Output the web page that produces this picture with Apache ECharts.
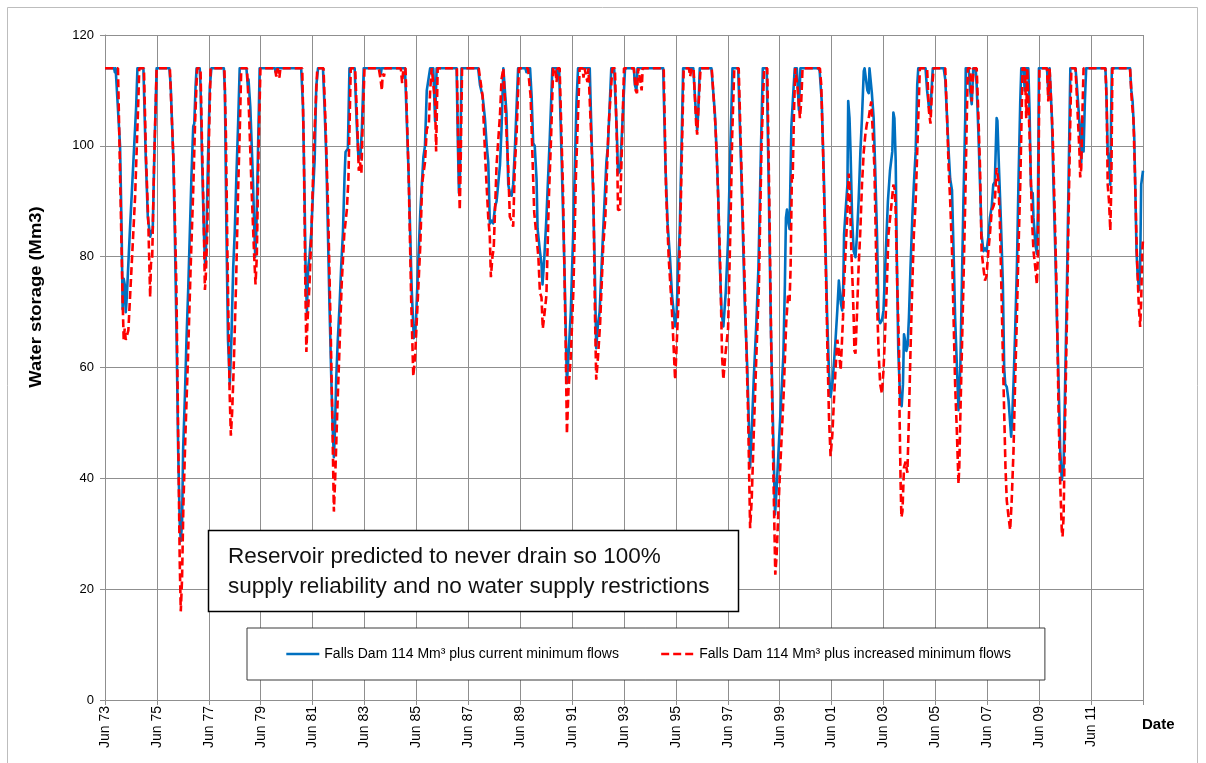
<!DOCTYPE html>
<html>
<head>
<meta charset="utf-8">
<script src="https://cdn.jsdelivr.net/npm/echarts@6/dist/echarts.min.js"></script>
<style>
html,body{margin:0;padding:0;background:#fff;}
#c{width:1206px;height:763px;}
</style>
</head>
<body>
<div id="c"></div>
<script>
// x values: years since June 1973; y values: storage in Mm3
const xTickLabels = ['Jun 73','Jun 75','Jun 77','Jun 79','Jun 81','Jun 83','Jun 85','Jun 87','Jun 89','Jun 91',
  'Jun 93','Jun 95','Jun 97','Jun 99','Jun 01','Jun 03','Jun 05','Jun 07','Jun 09','Jun 11'];
const seriesNames = ['Falls Dam 114 Mm\u00b3 plus current minimum flows','Falls Dam 114 Mm\u00b3 plus increased minimum flows'];

const storageCurrent = [
[0,114],[0.35,114],[0.38,113.3],[0.41,114],[0.47,114],[0.58,100],[0.64,85],[0.68,70.5],[0.72,76],[0.76,75],[0.8,70],[0.84,72.7],[0.96,84.8],[1.09,96.8],[1.2,107],[1.25,114],
[1.48,114],[1.57,98],[1.65,87.2],[1.74,83.6],[1.79,84.5],[1.84,85],[1.9,98],[1.99,114],
[2.48,114],[2.53,111],[2.63,98],[2.69,84.5],[2.76,65],[2.82,45],[2.88,32],[2.92,28.7],[2.97,32],[3.01,45],[3.08,55],[3.14,65],[3.21,74.6],[3.27,84.5],[3.33,94.3],[3.4,103.5],[3.44,104],[3.49,110.7],[3.53,114],
[3.65,114],[3.68,111],[3.74,97.6],[3.81,84.5],[3.85,79.3],[3.87,78],[3.91,84.5],[3.97,97.6],[4.04,110.7],[4.1,114],
[4.58,114],[4.62,110],[4.68,84.5],[4.74,65],[4.81,57],[4.87,65],[4.94,78],[5.0,84.5],[5.06,94],[5.13,104],[5.19,114],
[5.45,114],[5.5,111],[5.53,112],[5.6,107],[5.7,94],[5.76,84],[5.79,80],[5.83,84.5],[5.89,97.6],[5.96,114],
[6.55,114],[6.58,113.3],[6.62,114],
[7.56,114],[7.63,107],[7.69,91],[7.73,78],[7.78,70],[7.83,78],[7.88,80],[7.95,84.5],[8.01,91],[8.08,97.6],[8.14,110.7],[8.21,114],
[8.4,114],[8.46,107],[8.53,97.6],[8.59,84.5],[8.65,71.3],[8.72,58],[8.78,48.4],[8.82,43.8],[8.86,48.4],[8.91,58],[8.97,64.8],[9.04,71.3],[9.1,78],[9.17,84.5],[9.23,94.3],[9.27,98.9],[9.36,99.5],[9.42,114],
[9.62,114],[9.7,104],[9.77,97.5],[9.84,98],[9.9,103],[9.97,114],
[10.6,114],[10.63,113],[10.66,114],
[11.56,114],[11.7,95],[11.82,74],[11.9,65.3],[11.98,68],[12.08,80],[12.15,88],[12.27,98],[12.33,100],[12.4,110],[12.53,114],
[12.65,114],[12.72,104.5],[12.78,114],
[13.55,114],[13.6,100],[13.64,91.5],[13.68,95],[13.74,114],
[14.38,114],[14.45,111],[14.55,109],[14.64,105],[14.71,100],[14.77,97],[14.83,86],[14.9,86.5],[14.96,86],[15.03,89],[15.09,90],[15.22,96.5],[15.28,103],[15.35,114],
[15.4,114],[15.47,106],[15.54,93],[15.6,91.5],[15.67,91],[15.73,93],[15.8,100],[15.92,114],
[16.2,114],[16.24,113.3],[16.3,114],
[16.38,114],[16.44,109],[16.5,100.5],[16.56,100],[16.63,94],[16.67,85],[16.76,81],[16.82,78.7],[16.86,75],[16.92,79],[17.01,87],[17.14,101.5],[17.24,114],
[17.4,114],[17.45,112],[17.5,114],
[17.55,114],[17.6,97],[17.7,79],[17.8,57.2],[17.86,62],[17.95,70],[18.04,84],[18.17,108],[18.23,114],
[18.68,114],[18.81,91],[18.87,79],[18.93,63.5],[19.0,68],[19.06,70],[19.19,84],[19.32,97],[19.38,100],[19.51,114],
[19.62,114],[19.72,103],[19.77,95],[19.85,95.5],[20.04,114],
[20.38,114],[20.42,111],[20.48,110],[20.52,114],
[21.51,114],[21.6,96],[21.68,86],[21.77,80],[21.85,73],[21.97,67.4],[22.03,70],[22.09,78.7],[22.15,85],[22.28,114],
[22.67,114],[22.77,106],[22.82,102.8],[22.86,106],[22.92,114],
[23.37,114],[23.5,106],[23.56,100],[23.63,91],[23.69,79],[23.76,70],[23.83,67.4],[23.92,73.5],[24.01,83],[24.08,96],[24.18,114],
[24.4,114],[24.52,95],[24.65,72],[24.75,60],[24.86,42],[24.92,48],[25.0,58],[25.1,68],[25.18,78],[25.28,100],[25.35,114],
[25.5,114],[25.58,92],[25.66,67],[25.75,48],[25.82,33.5],[25.88,38],[26.01,50],[26.14,62],[26.2,75],[26.24,87],[26.28,88.5],[26.34,86],[26.38,85],[26.45,103.5],[26.51,108.5],[26.58,114],
[26.66,114],[26.74,106.5],[26.8,114],
[27.5,114],[27.54,113.5],[27.62,108],[27.71,93],[27.77,81],[27.83,69],[27.9,59],[27.96,54.7],[28.03,57],[28.09,60.7],[28.15,64.9],[28.22,70.3],[28.28,75.7],[28.32,76],[28.36,71.5],[28.41,70.3],[28.45,75],[28.48,84],[28.54,88.3],[28.58,88.5],[28.61,93],[28.64,108.1],[28.69,105],[28.73,99],[28.79,87],[28.85,81],[28.92,79.9],[28.98,84],[29.04,90],[29.11,99],[29.17,105],[29.24,113.5],[29.27,114],[29.32,114],[29.38,110],[29.43,109.5],[29.46,114],[29.52,114],[29.55,109.6],[29.62,105],[29.68,96],[29.75,84],[29.81,69],[29.87,68],[29.94,68.5],[30.0,70.3],[30.09,81],[30.17,90],[30.25,95.5],[30.32,95.5],[30.34,99],[30.38,106],[30.42,105],[30.47,97.3],[30.51,81],[30.57,63],[30.64,54.5],[30.7,53],[30.75,57],[30.79,66],[30.83,65],[30.88,63],[30.93,64],[30.98,69],[31.04,78],[31.11,87],[31.17,93],[31.24,99],[31.3,111],[31.34,114],
[31.62,114],[31.68,110],[31.75,107],[31.81,105.7],[31.85,110],[31.9,114],
[32.32,114],[32.38,112],[32.45,105],[32.51,99],[32.57,94],[32.64,92],[32.7,81],[32.76,69],[32.83,60],[32.89,52.3],[32.96,60],[33.02,75],[33.08,90],[33.15,105],[33.17,114],
[33.28,114],[33.34,110],[33.4,107.5],[33.46,114],
[33.55,114],[33.59,111],[33.66,102],[33.72,93],[33.78,84],[33.85,81],[33.91,81.5],[33.97,81],[34.04,83.5],[34.1,87],[34.17,89],[34.23,93],[34.29,93.5],[34.36,105],[34.39,104.5],[34.45,96],[34.52,87],[34.6,75],[34.65,60],[34.69,57],[34.75,56.5],[34.82,54],[34.88,50],[34.92,47.5],[34.96,51],[35.01,57],[35.07,66],[35.14,78],[35.2,93],[35.27,108],[35.31,114],
[35.4,114],[35.44,110],[35.48,114],
[35.58,114],[35.63,106],[35.68,93],[35.72,91],[35.75,91.5],[35.78,87],[35.85,82.3],[35.91,80.5],[35.95,88],[35.99,114],
[36.3,114],[36.36,109],[36.4,114],
[36.44,114],[36.49,105],[36.55,93],[36.62,81],[36.68,69],[36.75,57],[36.81,45],[36.87,39.7],[36.94,42],[37.0,57],[37.07,75],[37.13,93],[37.2,114],
[37.4,114],[37.45,111],[37.52,106.3],[37.58,102],[37.62,97],[37.66,105],[37.71,99],[37.76,108],[37.81,114],
[38.55,114],[38.58,111],[38.64,99],[38.69,97.3],[38.74,93],[38.77,105],[38.8,114],
[39.5,114],[39.55,110],[39.6,108],[39.66,102],[39.7,93],[39.75,81],[39.79,77],[39.85,74],[39.89,78],[39.93,93],[40,95.5]
];

const storageIncreased = [
[0,114],[0.5,114],[0.58,95],[0.68,72],[0.72,65],[0.76,67],[0.8,65],[0.9,66.7],[1.03,78.7],[1.16,90.8],[1.29,109],[1.32,114],
[1.5,114],[1.58,98],[1.67,86],[1.74,72.7],[1.77,78.7],[1.82,80],[1.89,96.6],[1.99,114],
[2.5,114],[2.55,108],[2.65,96],[2.75,75],[2.82,48],[2.88,25],[2.92,16],[2.97,22],[3.02,35],[3.1,48],[3.2,62],[3.3,78],[3.4,92],[3.47,104],[3.55,114],
[3.68,114],[3.74,100],[3.8,88],[3.85,74],[3.88,76],[3.94,84],[4.0,100],[4.07,114],
[4.6,114],[4.66,102],[4.72,80],[4.8,56],[4.85,47.7],[4.9,52],[4.96,60],[5.05,75],[5.13,92],[5.2,104],[5.25,114],
[5.47,114],[5.55,106],[5.65,92],[5.75,80],[5.8,75],[5.85,80],[5.92,100],[5.99,114],
[6.55,114],[6.6,112.5],[6.65,114],[6.72,112.3],[6.76,114],
[7.6,114],[7.66,100],[7.72,75],[7.76,62.8],[7.8,68],[7.88,75],[7.96,85],[8.05,100],[8.18,114],
[8.42,114],[8.5,104],[8.6,88],[8.7,66],[8.77,48],[8.82,34],[8.87,40],[8.95,52],[9.04,64],[9.12,75],[9.22,84],[9.32,88.5],[9.38,94],[9.47,114],
[9.64,114],[9.72,104],[9.78,95.5],[9.83,97],[9.88,95],[9.93,104],[10.0,114],
[10.55,114],[10.62,112],[10.67,110],[10.7,113],[10.75,112.5],[10.8,114],
[11.4,114],[11.45,111.3],[11.5,114],
[11.58,114],[11.7,95],[11.8,72],[11.88,58.4],[11.95,62],[12.05,72],[12.15,82],[12.22,93],[12.27,95],[12.33,97],[12.4,103],[12.48,104],[12.53,110],[12.59,114],
[12.66,114],[12.72,108],[12.76,99],[12.82,114],
[13.56,114],[13.62,98],[13.67,88.4],[13.7,95],[13.76,114],
[14.4,114],[14.55,109],[14.66,97],[14.77,87],[14.83,83.5],[14.87,76.3],[14.93,80],[14.98,81.5],[15.09,96.6],[15.22,105.5],[15.28,112],[15.35,114],
[15.42,114],[15.54,96],[15.6,87.2],[15.67,86.5],[15.73,85.4],[15.79,96],[15.86,102],[15.95,114],
[16.3,114],[16.4,109],[16.48,97],[16.54,88],[16.6,85],[16.7,80],[16.76,73.5],[16.82,72.7],[16.87,67],[16.92,69],[17.01,73],[17.1,90],[17.19,101.5],[17.27,114],
[17.35,114],[17.4,111.5],[17.44,114],
[17.52,114],[17.65,92],[17.75,65],[17.8,48],[17.86,56],[17.95,62],[18.05,74],[18.15,95],[18.29,114],
[18.4,114],[18.44,112.3],[18.48,114],[18.55,114],[18.59,111.5],[18.63,114],
[18.7,114],[18.82,92],[18.88,70],[18.93,57.8],[19.0,62],[19.08,68],[19.2,82],[19.28,87],[19.4,103],[19.55,114],
[19.65,114],[19.73,100],[19.77,88.4],[19.85,88.5],[19.92,100],[20.0,114],
[20.38,114],[20.45,110],[20.5,109.5],[20.55,114],[20.62,112],[20.68,110],[20.72,114],
[21.53,114],[21.62,92],[21.72,80],[21.85,70],[21.97,57.8],[22.02,63],[22.1,72],[22.2,92],[22.3,114],
[22.5,114],[22.55,112.5],[22.6,114],
[22.68,114],[22.78,104],[22.82,102],[22.88,108],[22.95,114],
[23.38,114],[23.52,104],[23.6,95],[23.7,80],[23.78,62],[23.83,57.8],[23.9,62],[24.01,67],[24.1,85],[24.17,102],[24.25,114],
[24.42,114],[24.55,92],[24.67,72],[24.78,52],[24.86,31],[24.92,36],[25.0,48],[25.1,62],[25.2,75],[25.3,100],[25.4,114],
[25.52,114],[25.6,90],[25.68,62],[25.76,40],[25.83,22.6],[25.88,26],[26.0,40],[26.15,55],[26.25,68],[26.32,73],[26.38,72],[26.42,78],[26.47,95],[26.5,94],[26.55,106],[26.6,114],
[26.66,114],[26.7,110],[26.78,105],[26.83,108],[26.88,114],
[27.55,114],[27.6,111],[27.67,99],[27.73,87],[27.79,75],[27.84,63],[27.9,51],[27.96,44],[28.03,48],[28.09,54],[28.15,59.5],[28.22,65],[28.28,63],[28.35,59.5],[28.39,59.5],[28.44,69],[28.48,75],[28.54,81],[28.6,87],[28.66,95],[28.7,92],[28.76,81],[28.81,75],[28.85,69],[28.88,63],[28.92,62.5],[28.98,70],[29.04,78],[29.11,85],[29.17,93],[29.24,99],[29.3,102],[29.36,104],[29.43,105],[29.49,107],[29.53,108],[29.58,103],[29.65,96],[29.7,84],[29.75,72],[29.81,63],[29.87,57],[29.94,55.3],[30.0,59.5],[30.06,66],[30.13,75],[30.19,84],[30.32,90],[30.38,93],[30.44,92],[30.47,88],[30.53,75],[30.6,63],[30.62,51],[30.66,39],[30.69,33],[30.73,34],[30.79,42],[30.85,43],[30.92,41],[30.98,51],[31.04,63],[31.11,75],[31.17,84],[31.24,90],[31.3,99],[31.36,108],[31.4,114],
[31.68,114],[31.75,106.3],[31.81,104],[31.87,110],[31.93,114],
[32.38,114],[32.45,105],[32.51,96],[32.57,90],[32.64,81],[32.7,69],[32.76,57],[32.83,48],[32.89,39],[32.92,42],[32.96,51],[33.02,63],[33.08,75],[33.15,90],[33.21,105],[33.25,114],
[33.34,114],[33.4,108],[33.47,114],
[33.59,114],[33.66,105],[33.72,96],[33.78,81],[33.85,78],[33.91,75.7],[33.97,76.5],[34.04,81],[34.1,84],[34.17,88.3],[34.23,89],[34.29,90],[34.36,96],[34.42,94],[34.48,87],[34.54,75],[34.6,62],[34.65,52],[34.7,42],[34.75,36],[34.82,33],[34.88,30.7],[34.94,36],[35.01,45],[35.07,57],[35.14,69],[35.2,81],[35.27,93],[35.32,105],[35.36,114],
[35.45,114],[35.5,105],[35.54,114],
[35.6,114],[35.65,99],[35.72,87],[35.78,81],[35.85,78],[35.91,75],[35.95,80],[35.97,93],[36.01,114],
[36.3,114],[36.35,108],[36.4,114],
[36.45,114],[36.52,102],[36.62,84],[36.68,72],[36.75,51],[36.81,39],[36.87,30.7],[36.9,29.5],[36.94,33],[37.0,51],[37.07,69],[37.13,87],[37.2,105],[37.24,114],
[37.4,114],[37.49,105],[37.55,99],[37.58,94.3],[37.62,96],[37.66,105],[37.71,114],
[38.55,114],[38.6,108],[38.64,93],[38.69,90],[38.74,84.7],[38.78,93],[38.82,114],
[39.5,114],[39.57,108],[39.63,105],[39.7,93],[39.76,81],[39.83,72],[39.89,67.3],[39.93,72],[39.97,81],[40,83]
];

const FONT = "'Liberation Sans', Arial, Helvetica, sans-serif";
const chart = echarts.init(document.getElementById('c'), null, {renderer: 'canvas'});
const gridColor = '#8f8f8f';

chart.setOption({
  animation: false,
  backgroundColor: '#ffffff',
  textStyle: {fontFamily: FONT},
  grid: {left: 105, right: 63, top: 35, bottom: 63, containLabel: false},
  xAxis: {
    type: 'value', min: 0, max: 40, interval: 2,
    axisLine: {show: true, lineStyle: {color: gridColor, width: 1}},
    axisTick: {show: true, length: 5, lineStyle: {color: gridColor}},
    axisLabel: {
      rotate: 90, margin: 6, fontSize: 14, color: '#000', fontFamily: FONT,
      formatter: v => xTickLabels[Math.round(v / 2)] || ''
    },
    splitLine: {show: true, lineStyle: {color: gridColor, width: 1}}
  },
  yAxis: {
    type: 'value', min: 0, max: 120, interval: 20,
    axisLine: {show: true, lineStyle: {color: gridColor, width: 1}},
    axisTick: {show: true, length: 5, lineStyle: {color: gridColor}},
    axisLabel: {fontSize: 13, color: '#000', margin: 11, fontFamily: FONT},
    splitLine: {show: true, lineStyle: {color: gridColor, width: 1}}
  },
  legend: {
    left: 247, top: 628,
    padding: [19, 34, 19, 38],
    itemWidth: 33, itemHeight: 14, itemGap: 41,
    backgroundColor: '#ffffff', borderColor: '#3a3a3a', borderWidth: 1,
    selectedMode: false,
    itemStyle: {opacity: 0, borderWidth: 0},
    lineStyle: {width: 2.6},
    textStyle: {fontSize: 14, color: '#000', fontFamily: FONT},
    data: seriesNames
  },
  series: [
    {
      name: seriesNames[0], type: 'line', data: storageCurrent,
      symbol: 'none', showSymbol: false, z: 2,
      lineStyle: {color: '#0070C0', width: 2.6, join: 'round'},
      itemStyle: {color: '#0070C0'}
    },
    {
      name: seriesNames[1], type: 'line', data: storageIncreased,
      symbol: 'none', showSymbol: false, z: 3,
      lineStyle: {color: '#FF0000', width: 2.6, type: [8, 4]},
      itemStyle: {color: '#FF0000'}
    }
  ],
  graphic: [
    {type: 'rect', silent: true, z: -1,
     shape: {x: 7.5, y: 7.5, width: 1190, height: 800},
     style: {fill: 'none', stroke: '#bdbdbd', lineWidth: 1}},
    {type: 'rect', silent: true, z: 10,
     shape: {x: 208.5, y: 530.5, width: 530, height: 81},
     style: {fill: '#ffffff', stroke: '#000000', lineWidth: 1.5}},
    {type: 'text', silent: true, z: 11, x: 228, y: 557,
     style: {text: 'Reservoir predicted to never drain so 100%', font: '22.5px ' + FONT, fill: '#111', align: 'left', verticalAlign: 'middle'}},
    {type: 'text', silent: true, z: 11, x: 228, y: 587,
     style: {text: 'supply reliability and no water supply restrictions', font: '22.5px ' + FONT, fill: '#111', align: 'left', verticalAlign: 'middle'}},
    {type: 'text', silent: true, z: 11, x: 37, y: 297, rotation: Math.PI / 2, scaleX: 1.15,
     style: {text: 'Water storage (Mm3)', font: 'bold 16px ' + FONT, fill: '#000', align: 'center', verticalAlign: 'middle'}},
    {type: 'text', silent: true, z: 11, x: 1142, y: 725,
     style: {text: 'Date', font: 'bold 15px ' + FONT, fill: '#000', align: 'left', verticalAlign: 'middle'}}
  ]
});
</script>
</body>
</html>
